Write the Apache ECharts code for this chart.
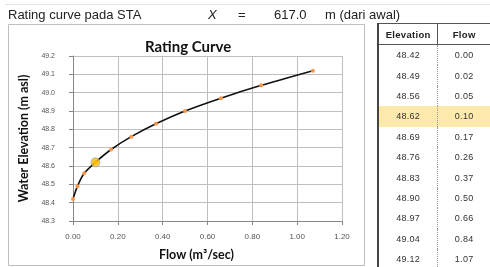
<!DOCTYPE html>
<html>
<head>
<meta charset="utf-8">
<script src="https://cdn.jsdelivr.net/npm/echarts@6/dist/echarts.min.js"></script>
<style>
    body { margin: 0; background: #fff; font-family: "Liberation Sans", Arial, sans-serif; }
    #main { position: absolute; left: 0; top: 0; width: 490px; height: 267px; }
    #head { position: absolute; left: 0; top: 0; width: 490px; height: 30px; font-size: 13px; color: #222; }
    #head span { position: absolute; top: 7px; }
    #topline { position: absolute; left: 5px; top: 4px; width: 485px; height: 1px; background: #e4e4e4; }
    #tbl { position: absolute; left: 377px; top: 23px; border-collapse: collapse; font-size: 9px; letter-spacing: 0.3px; color: #333; }
    #tbl td, #tbl th { height: 20.4px; padding: 0; text-align: center; }
    #tbl th { font-weight: bold; font-size: 9.5px; color: #222; border-top: 1px solid #555; border-bottom: 1px solid #555; height: 20px; }
    #tbl .c1 { width: 59px; border-left: 2px solid #444; border-right: 1px dotted #999; }
    #tbl th.c1 { border-right: 1px solid #555; }
    #tbl .c2 { width: 53px; }
    #tbl tr.hl td { background: #fde9a9; }
</style>
</head>
<body>
<div id="main"></div>
<div id="topline"></div>
<div id="head">
    <span style="left:8px">Rating curve pada STA</span>
    <span style="left:208px;font-style:italic">X</span>
    <span style="left:238px">=</span>
    <span style="left:274px">617.0</span>
    <span style="left:325px">m (dari awal)</span>
</div>
<table id="tbl"></table>
<script>
// data dari tabel
var elevation = [48.42, 48.49, 48.56, 48.62, 48.69, 48.76, 48.83, 48.90, 48.97, 49.04, 49.12];
var flow = [0.00, 0.02, 0.05, 0.10, 0.17, 0.26, 0.37, 0.50, 0.66, 0.84, 1.07];
var highlightIndex = 3;

// tabel di kanan
var html = '<tr><th class="c1">Elevation</th><th class="c2">Flow</th></tr>';
for (var i = 0; i < elevation.length; i++) {
    html += '<tr' + (i == highlightIndex ? ' class="hl"' : '') + '><td class="c1">' +
        elevation[i].toFixed(2) + '</td><td class="c2">' + flow[i].toFixed(2) + '</td></tr>';
}
document.getElementById('tbl').innerHTML = html;

var points = [];
for (var i = 0; i < flow.length; i++) {
    points.push([flow[i], elevation[i]]);
}

var myChart = echarts.init(document.getElementById('main'));
var option = {
    animation: false,
    graphic: [{
        type: 'rect',
        shape: { x: 8.5, y: 24.5, width: 356, height: 241 },
        style: { fill: 'none', stroke: '#bfbfbf', lineWidth: 1 }
    }],
    title: {
        text: 'Rating Curve',
        left: 140,
        top: 35,
        textStyle: { fontSize: 15, fontWeight: 'bold', color: '#111', fontFamily: 'Lato' }
    },
    grid: { left: 73, right: 148, top: 56, bottom: 46 },
    xAxis: {
        type: 'value',
        min: 0,
        max: 1.2,
        interval: 0.2,
        name: 'Flow (m³/sec)',
        nameLocation: 'middle',
        nameGap: 27,
        nameTextStyle: { fontSize: 12.5, fontWeight: 'bold', color: '#111', fontFamily: 'Lato', padding: [0, 22, 0, 0] },
        axisLine: { lineStyle: { color: '#868686' } },
        axisTick: { show: true, length: 4, lineStyle: { color: '#868686' } },
        axisLabel: {
            fontSize: 8, color: '#555', margin: 12,
            formatter: function (v) { return v.toFixed(2); }
        },
        splitLine: { lineStyle: { color: '#bfbfbf' } }
    },
    yAxis: {
        type: 'value',
        min: 48.3,
        max: 49.2,
        interval: 0.1,
        name: 'Water Elevation (m asl)',
        nameLocation: 'middle',
        nameRotate: 90,
        nameGap: 37,
        nameTextStyle: { fontSize: 12.5, fontWeight: 'bold', color: '#111', fontFamily: 'Lato' },
        axisLine: { show: true, lineStyle: { color: '#868686' } },
        axisTick: { show: true, length: 4, lineStyle: { color: '#868686' } },
        axisLabel: {
            fontSize: 7, color: '#555', margin: 18,
            formatter: function (v) { return v.toFixed(1); }
        },
        splitLine: { lineStyle: { color: '#bfbfbf' } }
    },
    series: [
        {
            type: 'line',
            data: points,
            smooth: 0.3,
            symbol: 'circle',
            symbolSize: 4,
            lineStyle: { color: '#111', width: 1.6 },
            itemStyle: { color: '#f79646' }
        },
        {
            type: 'scatter',
            data: [points[highlightIndex]],
            symbolSize: 9,
            itemStyle: { color: '#ffc000', borderColor: '#8ea9c1', borderWidth: 1 },
            z: 5
        }
    ]
};
myChart.setOption(option);
</script>
</body>
</html>
